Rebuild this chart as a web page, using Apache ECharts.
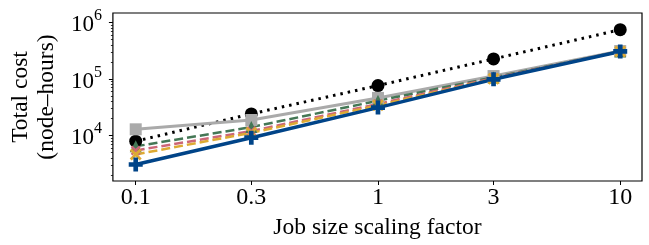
<!DOCTYPE html>
<html>
<head>
<meta charset="utf-8">
<script src="https://cdn.jsdelivr.net/npm/echarts@6/dist/echarts.min.js"></script>
<style>
  html, body { margin: 0; padding: 0; background: #fff; }
  #chart { width: 649px; height: 245px; }
</style>
</head>
<body>
<div id="chart"></div>
<script>
// job size scaling factors (x) and total cost per policy (node-hours)
const scaleFactors = [0.1, 0.3, 1, 3, 10];
const xTickValues = [0.1, 0.3, 1, 3, 10];
const yMajorTicks = [1e4, 1e5, 1e6];
const yMinorTicks = [2e3, 3e3, 4e3, 5e3, 6e3, 7e3, 8e3, 9e3,
                     2e4, 3e4, 4e4, 5e4, 6e4, 7e4, 8e4, 9e4,
                     2e5, 3e5, 4e5, 5e5, 6e5, 7e5, 8e5, 9e5];

const costBlack = [7900, 24000, 76000, 225000, 740000];
const costGray = [12800, 18700, 46000, 112000, 310000];
const costGreen = [6400, 14000, 41000, 106000, 305000];
const costPink = [5400, 11900, 36000, 103000, 305000];
const costGold = [4600, 11100, 34000, 100000, 305000];
const costBlue = [3050, 9100, 31000, 98000, 305000];

const FONT = '"Liberation Serif", "DejaVu Serif", serif';
const PLUS = 'path://M-1,-3H1V-1H3V1H1V3H-1V1H-3V-1H-1Z';
const XMARK = 'path://M-2,-3L0,-1L2,-3L3,-2L1,0L3,2L2,3L0,1L-2,3L-3,2L-1,0L-3,-2Z';

const pairs = ys => scaleFactors.map((x, i) => [x, ys[i]]);

function line(name, ys, color, type, width, symbol, size) {
    return {
        name: name,
        type: 'line',
        data: pairs(ys),
        symbol: symbol,
        symbolSize: size,
        showSymbol: true,
        lineStyle: { color: color, width: width, type: type, cap: 'butt' },
        itemStyle: { color: color, opacity: 1 },
        emphasis: { disabled: true },
        animation: false
    };
}

const chart = echarts.init(document.getElementById('chart'));
chart.setOption({
    animation: false,
    grid: {
        left: 112, right: 7, top: 13, bottom: 63,
        show: true, borderColor: '#000', borderWidth: 1.2, backgroundColor: 'transparent'
    },
    xAxis: {
        type: 'log',
        logBase: 10,
        min: 0.0805,
        max: 12.3,
        name: 'Job size scaling factor',
        nameLocation: 'middle',
        nameGap: 35,
        nameTextStyle: { fontFamily: FONT, fontSize: 23.5, color: '#000' },
        axisLine: { show: false },
        splitLine: { show: false },
        axisTick: { show: true, customValues: xTickValues, length: 4, inside: false, lineStyle: { color: '#000' } },
        axisLabel: {
            customValues: xTickValues,
            fontFamily: FONT, fontSize: 24, color: '#000', margin: 5,
            formatter: v => String(+v.toPrecision(3))
        }
    },
    yAxis: [{
        type: 'log',
        logBase: 10,
        min: 1560,
        max: 1.46e6,
        name: 'Total cost\n(node\u2013hours)',
        nameLocation: 'middle',
        nameGap: 47,
        nameTextStyle: { fontFamily: FONT, fontSize: 23.5, color: '#000', lineHeight: 26 },
        axisLine: { show: false },
        splitLine: { show: false },
        axisTick: { show: true, customValues: yMajorTicks, length: 4, lineStyle: { color: '#000' } },
        axisLabel: {
            customValues: yMajorTicks,
            margin: 11,
            formatter: v => '{b|10}{s|' + Math.round(Math.log10(v)) + '}',
            rich: {
                b: { fontFamily: FONT, fontSize: 23, color: '#000', padding: [6, 0, 0, 0] },
                s: { fontFamily: FONT, fontSize: 16, color: '#000', verticalAlign: 'top', padding: [0, 0, 10, 0] }
            }
        }
    }, {
        type: 'log',
        logBase: 10,
        min: 1560,
        max: 1.46e6,
        position: 'left',
        axisLine: { show: false },
        splitLine: { show: false },
        axisLabel: { show: false },
        axisTick: { show: true, customValues: yMinorTicks, length: 2, lineStyle: { color: '#000', width: 0.8 } }
    }],
    series: [
        line('black', costBlack, '#000000', [2.5, 5], 3, 'circle', 13),
        line('gray', costGray, '#aaaaaa', 'solid', 3, 'rect', 12),
        line('green', costGreen, '#447755', [9, 4], 2.5, 'triangle', 12),
        line('pink', costPink, '#cc6677', [9, 4], 2.5, XMARK, 10),
        line('gold', costGold, '#ddaa33', [9, 4], 2.5, XMARK, 12),
        line('blue', costBlue, '#004488', 'solid', 3.5, PLUS, 14)
    ]
});
</script>
</body>
</html>
